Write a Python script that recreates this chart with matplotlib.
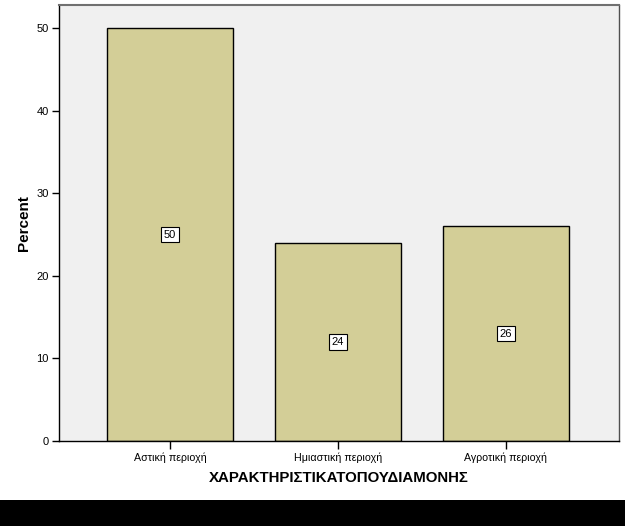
import matplotlib
matplotlib.use("Agg")
import matplotlib.pyplot as plt
from matplotlib.patches import Rectangle

categories = ["Αστική περιοχή", "Ημιαστική περιοχή", "Αγροτική περιοχή"]
percent = [50, 24, 26]
yticks = [0, 10, 20, 30, 40, 50]
xlabel = "ΧΑΡΑΚΤΗΡΙΣΤΙΚΑΤΟΠΟΥΔΙΑΜΟΝΗΣ"
ylabel = "Percent"

plt.rcParams['font.family'] = ['Liberation Sans', 'DejaVu Sans']

fig = plt.figure(figsize=(6.25, 5.26), dpi=100)
fig.patch.set_facecolor('white')
ax = fig.add_axes([58.5/625, 85/526, (619-58.5)/625, 436/526])
ax.set_facecolor('#f0f0f0')

x = list(range(len(categories)))
bars = ax.bar(x, percent, width=0.75, color='#d3ce97', edgecolor='black', linewidth=1.0, zorder=2)
for xi, v in zip(x, percent):
    ax.text(xi, v/2, str(v), ha='center', va='center', fontsize=8, zorder=3,
            bbox=dict(boxstyle='square,pad=0.25', facecolor='white', edgecolor='black', linewidth=0.8))

ax.set_xlim(-0.664, 2.673)
ax.set_ylim(0, 52.8)
ax.set_xticks(x)
ax.set_xticklabels(categories, fontsize=7.7)
ax.set_yticks(yticks)
ax.set_yticklabels([str(t) for t in yticks], fontsize=8)
ax.tick_params(axis='both', direction='out', length=5, width=1, color='black', pad=2)
ax.tick_params(axis='x', length=6, pad=2)

for s in ['left', 'bottom']:
    ax.spines[s].set_color('black')
    ax.spines[s].set_linewidth(1.0)
ax.spines['top'].set_color('#707070')
ax.spines['top'].set_linewidth(1.5)
ax.spines['right'].set_color('#505050')
ax.spines['right'].set_linewidth(1.0)

ax.set_xlabel(xlabel, fontsize=10.8, fontweight='bold', labelpad=6)
ax.set_ylabel(ylabel, fontsize=11, fontweight='bold', labelpad=4)

fig.patches.append(Rectangle((0, 0), 1, 26/526, transform=fig.transFigure, facecolor='black', edgecolor='none'))

fig.savefig('out.png', dpi=100, facecolor='white')
